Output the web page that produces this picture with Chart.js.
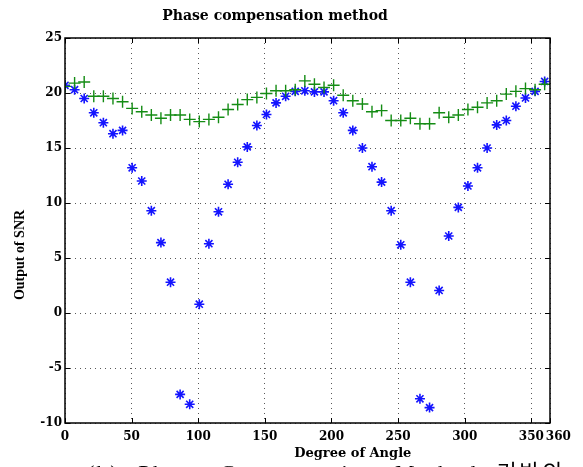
<!DOCTYPE html>
<html>
<head>
<meta charset="utf-8">
<script src="https://cdn.jsdelivr.net/npm/chart.js@4.4.1/dist/chart.umd.min.js"></script>
<style>
  html, body { margin: 0; padding: 0; background: #fff; overflow: hidden; }
  #wrap { position: relative; width: 583px; height: 467px; }
  #caption {
    position: absolute; left: 87px; top: 454px; white-space: nowrap;
    font: 22px 'Liberation Serif', 'Noto Sans CJK KR', serif;
    letter-spacing: 2.5px; word-spacing: 10px; color: #000;
  }
</style>
</head>
<body>
<div id="wrap">
  <canvas id="snr-chart" width="583" height="467"></canvas>
  <div id="caption">(b) Phase Compensation Method <span style="font-family:'Noto Sans CJK KR'">기반의 결과</span></div>
</div>
<script>
// angle of arrival (deg)
const angles = [0, 7.2, 14.4, 21.6, 28.8, 36, 43.2, 50.4, 57.6, 64.8, 72, 79.2, 86.4, 93.6, 100.8,
  108, 115.2, 122.4, 129.6, 136.8, 144, 151.2, 158.4, 165.6, 172.8, 180, 187.2, 194.4, 201.6,
  208.8, 216, 223.2, 230.4, 237.6, 244.8, 252, 259.2, 266.4, 273.6, 280.8, 288, 295.2, 302.4,
  309.6, 316.8, 324, 331.2, 338.4, 345.6, 352.8, 360];

// blue stars
const snrBlue = [20.7, 20.3, 19.5, 18.2, 17.3, 16.3, 16.6, 13.2, 12.0, 9.3, 6.4, 2.8, -7.4, -8.3, 0.8,
  6.3, 9.2, 11.7, 13.7, 15.1, 17.05, 18.05, 19.1, 19.7, 20.15, 20.2, 20.1, 20.1, 19.3,
  18.2, 16.6, 15.0, 13.3, 11.9, 9.3, 6.2, 2.8, -7.8, -8.6, 2.05, 7.0, 9.6, 11.55,
  13.2, 15.0, 17.1, 17.5, 18.8, 19.55, 20.15, 21.05];

// green pluses (phase compensated)
const snrGreen = [20.6, 20.9, 21.0, 19.7, 19.7, 19.5, 19.2, 18.6, 18.3, 18.0, 17.7, 18.0, 18.0, 17.6, 17.4,
  17.6, 17.8, 18.5, 18.95, 19.4, 19.6, 19.95, 20.2, 20.2, 20.3, 21.1, 20.8, 20.5, 20.7,
  19.8, 19.3, 19.0, 18.3, 18.4, 17.5, 17.5, 17.7, 17.2, 17.2, 18.2, 17.8, 18.0, 18.5,
  18.7, 19.1, 19.3, 19.9, 20.15, 20.4, 20.3, 20.8];

const xTicks = [0, 50, 100, 150, 200, 250, 300, 350, 364];
const yTicks = [-10, -5, 0, 5, 10, 15, 20, 25];

const serif = "'DejaVu Serif', serif";
const times = "'Liberation Serif', 'Times New Roman', serif";
const nbsp = (n) => '\u00a0'.repeat(n);

// box round the plot and matlab style inner tick marks
const frame = {
  id: 'frame',
  afterDraw(chart) {
    const { ctx, chartArea: a, scales: { x, y } } = chart;
    ctx.save();
    ctx.strokeStyle = '#000';
    ctx.lineWidth = 1;
    ctx.beginPath();
    x.ticks.forEach((t) => {
      const px = Math.round(x.getPixelForValue(t.value)) + 0.5;
      ctx.moveTo(px, a.bottom); ctx.lineTo(px, a.bottom - 5);
      ctx.moveTo(px, a.top); ctx.lineTo(px, a.top + 5);
    });
    y.ticks.forEach((t) => {
      const py = Math.round(y.getPixelForValue(t.value)) + 0.5;
      ctx.moveTo(a.left, py); ctx.lineTo(a.left + 5, py);
      ctx.moveTo(a.right, py); ctx.lineTo(a.right - 5, py);
    });
    ctx.stroke();
    ctx.lineWidth = 1.5;
    ctx.strokeRect(a.left, a.top, a.right - a.left, a.bottom - a.top);
    ctx.restore();
  },
};

const ctx = document.getElementById('snr-chart').getContext('2d');
new Chart(ctx, {
  type: 'scatter',
  data: {
    datasets: [{
      label: 'conventional',
      data: angles.map((a, i) => ({ x: a, y: snrBlue[i] })),
      pointStyle: 'star',
      radius: 5,
      borderWidth: 1.6,
      borderColor: 'rgb(20, 20, 255)',
      backgroundColor: 'rgb(20, 20, 255)',
      order: 2,
    }, {
      label: 'phase compensation',
      data: angles.map((a, i) => ({ x: a, y: snrGreen[i] })),
      pointStyle: 'cross',
      radius: 6,
      borderWidth: 1.4,
      borderColor: 'rgb(20, 140, 20)',
      backgroundColor: 'rgb(20, 140, 20)',
      order: 1,
    }],
  },
  options: {
    responsive: false,
    animation: false,
    layout: { padding: { left: 0, right: 33, top: 0, bottom: 0 } },
    plugins: {
      legend: { display: false },
      tooltip: { enabled: false },
      title: {
        display: true,
        text: 'Phase compensation method',
        color: '#000',
        font: { family: serif, size: 14, weight: 'bold', lineHeight: 1.2 },
        padding: { top: 8, bottom: 13.2 },
      },
    },
    scales: {
      x: {
        type: 'linear',
        min: 0,
        max: 364,
        afterFit: (s) => { s.height = 44; },
        afterBuildTicks: (s) => { s.ticks = xTicks.map((v) => ({ value: v })); },
        ticks: {
          color: '#000',
          padding: 7,
          maxRotation: 0,
          autoSkip: false,
          font: { family: serif, size: 12, weight: 'bold' },
          // the last label sits a little right of the box edge
          callback: (v) => (v === 364 ? nbsp(4) + '360' : v),
        },
        grid: { color: 'rgba(0,0,0,0.65)', drawTicks: false },
        border: { display: false, dash: [1, 4] },
        title: {
          display: true,
          text: nbsp(20) + 'Degree of Angle',
          color: '#000',
          font: { family: serif, size: 13, weight: 'bold' },
          padding: { top: 0, bottom: 6 },
        },
      },
      y: {
        min: -10,
        max: 25,
        afterFit: (s) => { s.width = 65; },
        afterBuildTicks: (s) => { s.ticks = yTicks.map((v) => ({ value: v })); },
        ticks: {
          color: '#000',
          padding: 3,
          font: { family: serif, size: 12, weight: 'bold' },
        },
        grid: { color: 'rgba(0,0,0,0.65)', drawTicks: false },
        border: { display: false, dash: [1, 4] },
        title: {
          display: true,
          text: 'Output of SNR' + nbsp(14),
          color: '#000',
          font: { family: times, size: 14, weight: 'bold', lineHeight: 1.2 },
          padding: { top: 12, bottom: 0 },
        },
      },
    },
  },
  plugins: [frame],
});
</script>
</body>
</html>
